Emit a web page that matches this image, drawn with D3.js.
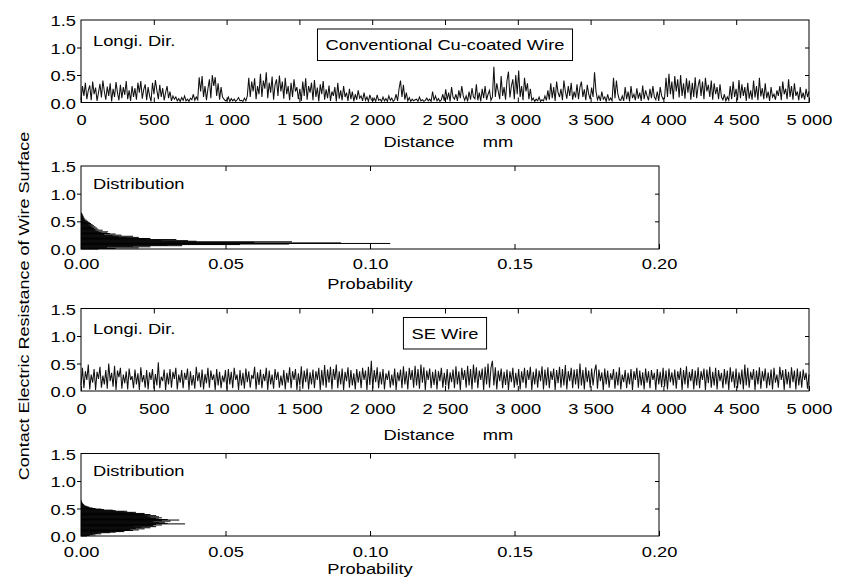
<!DOCTYPE html>
<html>
<head>
<meta charset="utf-8">
<script src="https://cdn.jsdelivr.net/npm/d3@7"></script>
<style>
body { margin: 0; background: #fff; }
text { font-family: "Liberation Sans", Arial, sans-serif; font-size: 15px; fill: #000; }
</style>
</head>
<body>
<div class="mydiv"></div>
<script>
var width = 848;
var height = 578;

// tick values and their labels
var distTicks = [0, 500, 1000, 1500, 2000, 2500, 3000, 3500, 4000, 4500, 5000];
var distTickLabels = ["0", "500", "1 000", "1 500", "2 000", "2 500", "3 000", "3 500", "4 000", "4 500", "5 000"];
var resTicks = [0, 0.5, 1.0, 1.5];
var resTickLabels = ["0.0", "0.5", "1.0", "1.5"];
var probTicks = [0, 0.05, 0.10, 0.15, 0.20];
var probTickLabels = ["0.00", "0.05", "0.10", "0.15", "0.20"];

// contact resistance along the wire (evenly spaced samples over 0..5000 mm)
var convResistance = [
	0.05,0.3,0.12,0.36,0.06,0.22,0.31,0.04,0.38,0.15,0.27,0.03,0.18,0.34,0.09,0.4,0.2,0.05,0.29,0.12,0.35,0.02,0.25,0.1,0.37,0.18,0.04,0.32,0.08,0.28,0.14,0.39,0.06,0.22,0.03,
	0.3,0.1,0.26,0.05,0.36,0.18,0.39,0.07,0.24,0.33,0.04,0.28,0.12,0.02,0.36,0.15,0.41,0.22,0.06,0.32,0.1,0.26,0.04,0.18,0.3,0.08,0.2,0.03,0.12,0.06,
	0.1,0.03,0.07,0.02,0.09,0.04,0.12,0.03,0.06,0.02,0.08,0.05,0.15,0.04,0.1,
	0.05,0.46,0.2,0.48,0.1,0.3,0.04,0.25,0.42,0.08,0.5,0.3,0.46,0.12,0.35,0.05,0.28,0.1,0.06,0.03,
	0.04,0.1,0.02,0.07,0.03,0.06,0.02,0.05,0.09,0.03,0.04,0.02,0.08,0.03,0.12,
	0.45,0.1,0.38,0.2,0.44,0.06,0.3,0.15,0.52,0.1,0.4,0.25,0.55,0.08,0.36,0.18,0.47,0.05,0.32,0.42,0.12,0.49,0.2,0.38,0.07,0.45,0.15,0.3,0.04,0.36,0.1,0.42,0.2,0.28,0.06,
	0.25,0.03,0.38,0.12,0.44,0.05,0.3,0.18,0.36,0.04,0.41,0.1,0.27,0.02,0.33,0.15,0.39,0.05,0.24,0.08,0.31,0.03,0.2,0.12,0.28,0.02,0.36,0.07,0.22,0.04,
	0.3,0.1,0.18,0.03,0.25,0.06,0.2,0.02,0.15,0.05,0.22,0.08,0.12,0.03,0.18,0.04,0.1,0.02,0.14,0.05,
	0.03,0.08,0.02,0.14,0.04,0.06,0.02,0.1,0.03,0.07,0.02,0.12,0.04,0.08,0.02,0.05,0.15,0.03,0.25,0.4,0.1,0.32,0.05,0.18,0.03,0.09,0.02,0.06,0.03,0.05,
	0.06,0.02,0.1,0.03,0.05,0.02,0.04,0.08,0.03,0.06,0.02,0.2,0.04,0.12,0.03,0.07,0.02,0.05,0.15,0.03,
	0.24,0.05,0.18,0.02,0.28,0.1,0.06,0.15,0.03,0.22,0.08,0.3,0.12,0.04,0.12,0.02,0.2,0.05,0.26,0.1,0.07,0.33,0.04,0.18,0.02,0.25,0.08,0.3,0.05,0.15,0.22,0.04,0.1,
	0.65,0.1,0.35,0.2,0.06,0.48,0.12,0.28,0.05,0.4,0.56,0.09,0.3,0.42,0.06,0.5,0.15,0.58,0.1,0.3,0.04,0.45,0.2,0.35,0.06,0.25,0.04,
	0.08,0.02,0.06,0.03,0.1,0.02,0.05,0.03,0.12,0.04,
	0.22,0.05,0.35,0.08,0.28,0.03,0.38,0.18,0.1,0.25,0.04,0.4,0.2,0.07,0.3,0.12,0.36,0.05,0.2,0.09,0.33,0.06,0.28,0.38,0.1,0.24,0.04,0.32,0.15,0.06,0.27,0.1,0.55,0.2,0.05,
	0.12,0.03,0.2,0.06,0.1,0.02,0.15,0.04,0.08,0.03,
	0.45,0.08,0.4,0.15,0.05,
	0.04,0.12,0.03,0.28,0.06,0.2,0.02,0.3,0.08,0.15,0.04,0.26,0.07,0.18,0.03,0.31,0.06,0.22,0.12,0.04,0.25,0.08,0.3,0.1,0.05,0.2,0.03,0.28,0.12,0.06,
	0.08,0.45,0.1,0.52,0.15,0.38,0.06,0.48,0.2,0.42,0.09,0.5,0.12,0.35,0.07,0.44,0.18,0.4,0.05,0.36,0.1,0.46,0.08,0.3,0.42,0.12,0.38,0.06,0.45,0.2,0.32,0.1,0.4,0.05,0.35,0.15,0.28,0.06,0.33,0.1,
	0.05,0.15,0.03,0.1,0.04,
	0.3,0.06,0.38,0.1,0.25,0.04,0.41,0.08,0.33,0.12,0.28,0.03,0.36,0.07,0.22,0.05,0.4,0.09,0.3,0.04,0.45,0.11,0.26,0.06,0.35,0.08,0.2,0.03,0.28,0.1,
	0.15,0.05,0.22,0.12,0.3,0.04,0.38,0.15,0.25,0.06,0.42,0.1,0.3,0.05,0.35,0.12,0.2,0.04,0.28,0.08,0.18,0.05,0.25,0.1,0.2
];

var seResistance = [
	0.1,0.42,0.05,0.36,0.2,0.48,0.03,0.3,0.15,0.4,0.02,0.35,0.22,0.44,0.06,0.28,0.12,0.38,0.04,0.5,0.18,0.33,0.08,0.46,0.02,0.37,0.25,0.42,0.04,0.3,0.14,0.36,0.03,0.41,0.2,0.27,0.05,0.39,0.12,0.32,0.02,0.43,0.16,0.29,0.06,0.38,0.03,0.34,0.2,0.4,
	0.04,0.31,0.1,0.52,0.05,0.26,0.18,0.39,0.02,0.33,0.12,0.4,0.06,0.35,0.22,0.42,0.03,0.3,0.15,0.38,0.05,0.33,0.2,0.41,0.02,0.36,0.1,0.29,0.04,0.44,0.18,0.34,0.07,0.39,0.03,0.31,0.14,0.42,0.06,0.37,0.2,0.3,0.02,0.4,0.1,0.35,0.05,0.28,0.16,0.38,
	0.03,0.4,0.12,0.35,0.05,0.42,0.2,0.3,0.02,0.38,0.1,0.33,0.04,0.41,0.16,0.36,0.06,0.29,0.22,0.44,0.03,0.34,0.11,0.39,0.05,0.31,0.18,0.42,0.02,0.37,0.12,0.3,0.04,0.4,0.2,0.35,0.06,0.28,0.1,0.38,0.03,0.33,0.15,0.43,0.05,0.36,0.2,0.4,0.02,0.32,
	0.1,0.45,0.04,0.37,0.16,0.41,0.03,0.34,0.12,0.39,0.05,0.36,0.2,0.42,0.02,0.38,0.1,0.47,0.06,0.39,0.15,0.44,0.03,0.4,0.2,0.48,0.05,0.36,0.12,0.41,0.02,0.35,0.18,0.43,0.06,0.38,0.1,0.32,0.03,0.4,0.15,0.36,0.05,0.42,0.2,0.37,0.02,0.44,0.11,0.55,
	0.04,0.38,0.16,0.43,0.05,0.35,0.12,0.4,0.03,0.32,0.2,0.37,0.06,0.3,0.1,0.41,0.02,0.34,0.18,0.39,0.05,0.45,0.12,0.36,0.03,0.42,0.2,0.38,0.06,0.46,0.1,0.4,0.04,0.48,0.15,0.43,0.02,0.37,0.2,0.41,0.05,0.35,0.11,0.39,0.03,0.36,0.18,0.42,0.06,0.33,
	0.1,0.4,0.03,0.34,0.16,0.39,0.05,0.45,0.12,0.36,0.02,0.42,0.2,0.38,0.06,0.46,0.1,0.4,0.03,0.48,0.15,0.43,0.05,0.37,0.2,0.41,0.02,0.44,0.12,0.5,0.06,0.42,0.55,0.1,0.43,0.03,0.37,0.18,0.41,0.05,0.35,0.11,0.39,0.02,0.36,0.16,0.42,0.06,0.33,0.1,
	0.4,0.03,0.36,0.15,0.42,0.05,0.38,0.2,0.44,0.02,0.35,0.12,0.41,0.06,0.37,0.18,0.45,0.03,0.39,0.1,0.43,0.05,0.36,0.2,0.41,0.02,0.38,0.14,0.44,0.06,0.4,0.1,0.47,0.03,0.36,0.18,0.42,0.05,0.39,0.12,0.4,0.04,0.5,0.1,0.38,0.03,0.43,0.16,0.37,0.06,
	0.41,0.1,0.36,0.48,0.04,0.39,0.18,0.34,0.02,0.41,0.12,0.37,0.06,0.32,0.2,0.4,0.04,0.35,0.1,0.43,0.03,0.3,0.16,0.38,0.05,0.33,0.12,0.4,0.02,0.36,0.2,0.42,0.06,0.37,0.1,0.34,0.03,0.41,0.15,0.36,0.05,0.38,0.2,0.33,0.02,0.4,0.12,0.35,0.07,0.42,
	0.08,0.37,0.03,0.41,0.16,0.34,0.1,0.39,0.04,0.36,0.2,0.42,0.02,0.38,0.12,0.45,0.05,0.35,0.18,0.4,0.03,0.37,0.1,0.43,0.05,0.36,0.2,0.41,0.02,0.39,0.14,0.44,0.06,0.35,0.1,0.42,0.03,0.38,0.18,0.33,0.05,0.4,0.12,0.37,0.02,0.43,0.16,0.36,0.06,0.41,
	0.05,0.34,0.12,0.39,0.03,0.48,0.1,0.42,0.06,0.35,0.2,0.4,0.02,0.37,0.12,0.43,0.04,0.36,0.18,0.41,0.05,0.34,0.1,0.39,0.03,0.42,0.15,0.3,0.06,0.44,0.2,0.38,0.02,0.4,0.12,0.35,0.05,0.43,0.16,0.37,0.03,0.41,0.1,0.36,0.06,0.39,0.2,0.33,0.04,0.3
];

// distribution: resistance level -> probability
var resLevels = [
	0.00,0.01,0.02,0.03,0.04,0.05,0.06,0.07,0.08,0.09,0.10,0.11,0.12,0.13,0.14,0.15,0.16,0.17,0.18,0.19,
	0.20,0.21,0.22,0.23,0.24,0.25,0.26,0.27,0.28,0.29,0.30,0.31,0.32,0.33,0.34,0.35,0.36,0.37,0.38,0.39,
	0.40,0.41,0.42,0.43,0.44,0.45,0.46,0.47,0.48,0.49,0.50,0.51,0.52,0.53,0.54,0.55,0.56,0.57,0.58,0.59,
	0.60,0.61,0.62,0.63,0.64,0.65
];
var convProb = [
	0.006,0.012,0.02,0.009,0.024,0.018,0.035,0.03,0.055,0.072,0.107,0.09,0.06,0.073,0.04,0.037,0.028,0.033,0.022,0.024,
	0.016,0.02,0.013,0.018,0.011,0.014,0.008,0.012,0.01,0.009,0.007,0.0094,0.006,0.005,0.0075,0.005,0.006,0.0045,0.0055,0.004,
	0.005,0.0035,0.0045,0.003,0.004,0.0025,0.0035,0.002,0.003,0.0018,0.0025,0.0015,0.002,0.0012,0.0015,0.001,0.0012,0.0008,0.001,0.0007,
	0.0008,0.0005,0.0006,0.0004,0.0004,0.0002
];
var seProb = [
	0.002,0.003,0.005,0.004,0.007,0.006,0.01,0.012,0.015,0.014,0.018,0.02,0.017,0.022,0.019,0.024,0.021,0.026,0.018,0.025,
	0.028,0.026,0.036,0.03,0.027,0.029,0.025,0.031,0.028,0.034,0.03,0.027,0.026,0.028,0.024,0.027,0.023,0.026,0.022,0.024,
	0.02,0.022,0.018,0.019,0.015,0.016,0.012,0.011,0.008,0.007,0.005,0.004,0.003,0.0026,0.002,0.0015,0.0012,0.001,0.0008,0.0006,
	0.0005,0.0004,0.0003,0.0002,0.0002,0.0001
];

// the original figure's lettering is stretched sideways
var HS = 1.22;
var left = 81;

var panels = [
	{ kind: "line", top: 20, bottom: 102.5, right: 809, tickOff: 22, titleOff: 44, series: convResistance, note: "Longi. Dir.", box: "Conventional Cu-coated Wire" },
	{ kind: "dist", top: 166, bottom: 249, right: 659, tickOff: 20, titleOff: 40, series: convProb, note: "Distribution" },
	{ kind: "line", top: 308.5, bottom: 391, right: 809, tickOff: 22.5, titleOff: 49, series: seResistance, note: "Longi. Dir.", box: "SE Wire" },
	{ kind: "dist", top: 453.5, bottom: 536, right: 659, tickOff: 20.5, titleOff: 38, series: seProb, note: "Distribution" }
];

var svg = d3.select(".mydiv")
	.append("svg")
	.attr("width", width)
	.attr("height", height);

function stretchText(sel) {
	sel.each(function() {
		var t = d3.select(this);
		var x = +t.attr("x") || 0;
		var y = +t.attr("y") || 0;
		t.attr("x", null).attr("y", null)
			.attr("transform", "translate(" + x + "," + y + ") scale(" + HS + ",1)");
	});
}

panels.forEach(function(p) {
	var g = svg.append("g");
	var y = d3.scaleLinear().domain([0, 1.5]).range([p.bottom, p.top]);
	var x, ticks, labels;
	if (p.kind == "line") {
		x = d3.scaleLinear().domain([0, 5000]).range([left, p.right]);
		ticks = distTicks; labels = distTickLabels;
	} else {
		x = d3.scaleLinear().domain([0, 0.2]).range([left, p.right]);
		ticks = probTicks; labels = probTickLabels;
	}

	// data
	if (p.kind == "line") {
		var n = p.series.length;
		var line = d3.line()
			.x(function(d, i) { return x(i * 5000 / (n - 1)); })
			.y(function(d) { return y(d); });
		g.append("path")
			.datum(p.series)
			.attr("d", line)
			.attr("fill", "none")
			.attr("stroke", "#111")
			.attr("stroke-width", 1.05);
	} else {
		g.selectAll("line.bin")
			.data(p.series)
			.enter()
			.append("line")
			.attr("class", "bin")
			.attr("x1", x(0))
			.attr("x2", function(d) { return x(d); })
			.attr("y1", function(d, i) { return y(resLevels[i]); })
			.attr("y2", function(d, i) { return y(resLevels[i]); })
			.attr("stroke", "#000")
			.attr("stroke-width", 1.0);
	}

	// bottom axis with inward ticks
	var xb = g.append("g")
		.attr("transform", "translate(0," + p.bottom + ")")
		.call(d3.axisBottom(x).tickValues(ticks)
			.tickFormat(function(d, i) { return labels[i]; })
			.tickSizeInner(-5).tickSizeOuter(0));
	xb.selectAll("text").attr("y", p.tickOff).attr("dy", null).call(stretchText);

	// top axis, ticks only
	g.append("g")
		.attr("transform", "translate(0," + p.top + ")")
		.call(d3.axisTop(x).tickValues(ticks.slice(1, -1)).tickFormat("").tickSizeInner(-5).tickSizeOuter(0));

	// left axis, outward ticks
	var yl = g.append("g")
		.attr("transform", "translate(" + left + ",0)")
		.call(d3.axisLeft(y).tickValues(resTicks)
			.tickFormat(function(d, i) { return resTickLabels[i]; })
			.tickSizeInner(4).tickSizeOuter(0));
	yl.selectAll(".tick line").filter(function(d) { return d == 0 || d == 1.5; }).remove();
	yl.selectAll("text").attr("x", -5).attr("y", 5.5).attr("dy", null).call(stretchText);

	// right axis, inward ticks
	g.append("g")
		.attr("transform", "translate(" + p.right + ",0)")
		.call(d3.axisRight(y).tickValues([0.5, 1.0]).tickFormat("").tickSizeInner(-4).tickSizeOuter(0));

	g.selectAll(".domain").remove();
	g.selectAll(".tick line").attr("stroke", "#000");
	g.selectAll(".tick text").attr("font-size", null).attr("font-family", null).attr("fill", "#000");

	// frame
	g.append("rect")
		.attr("x", left).attr("y", p.top)
		.attr("width", p.right - left).attr("height", p.bottom - p.top)
		.attr("fill", "none").attr("stroke", "#000").attr("stroke-width", 1);

	// axis title
	var cx = (left + p.right) / 2;
	if (p.kind == "line") {
		g.append("text").attr("x", cx - 26).attr("y", p.bottom + p.titleOff)
			.attr("text-anchor", "middle").text("Distance").call(stretchText);
		g.append("text").attr("x", cx + 53).attr("y", p.bottom + p.titleOff)
			.attr("text-anchor", "middle").text("mm").call(stretchText);
	} else {
		g.append("text").attr("x", cx).attr("y", p.bottom + p.titleOff)
			.attr("text-anchor", "middle").text("Probability").call(stretchText);
	}

	// notes inside the plot
	g.append("text").attr("x", 93).attr("y", p.top + (p.kind == "line" ? 25.5 : 22.5))
		.text(p.note).call(stretchText);

	if (p.box) {
		var bt = g.append("text").attr("x", cx).attr("y", p.top + 30)
			.attr("text-anchor", "middle").text(p.box);
		var w = bt.node().getComputedTextLength() * HS + 16;
		bt.call(stretchText);
		g.append("rect")
			.attr("x", cx - w / 2).attr("y", p.top + 9)
			.attr("width", w).attr("height", 31.5)
			.attr("fill", "none").attr("stroke", "#000").attr("stroke-width", 1);
	}
});

// shared y title
svg.append("text")
	.attr("text-anchor", "middle")
	.attr("transform", "translate(28.5,306) rotate(-90) scale(1.2,1)")
	.text("Contact Electric Resistance of Wire Surface");
</script>
</body>
</html>
